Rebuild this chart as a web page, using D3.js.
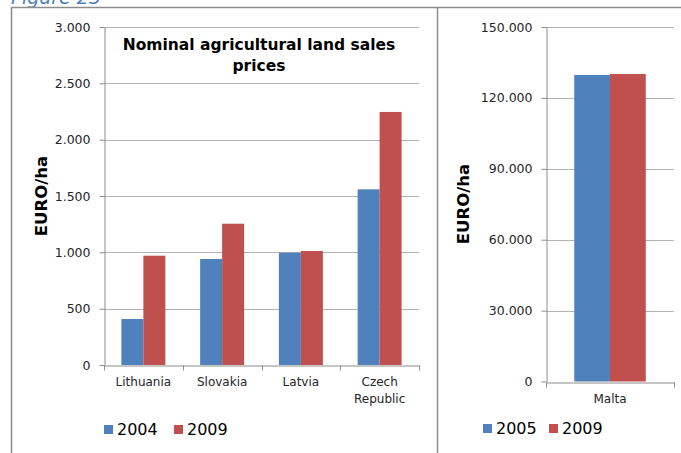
<!DOCTYPE html>
<html>
<head>
<meta charset="utf-8">
<script src="https://cdn.jsdelivr.net/npm/d3@7/dist/d3.min.js"></script>
<style>
html,body{margin:0;padding:0;background:#fff;}
svg{display:block;}
</style>
</head>
<body>
<svg id="chart" width="681" height="453"></svg>
<script>
// ---- data ----
const categoriesLeft = ["Lithuania", "Slovakia", "Latvia", "Czech Republic"];
const seriesLeft = ["2004", "2009"];
const values2004 = [408, 941, 997, 1559];
const values2009Left = [970, 1254, 1012, 2246];
const ticksLeft = [0, 500, 1000, 1500, 2000, 2500, 3000];

const categoriesRight = ["Malta"];
const seriesRight = ["2005", "2009"];
const values2005 = [129700];
const values2009Right = [130100];
const ticksRight = [0, 30000, 60000, 90000, 120000, 150000];

const chartTitle = ["Nominal agricultural land sales", "prices"];
const axisTitle = "EURO/ha";
const figureLabel = "Figure 23";
const colors = ["#4F81BD", "#C0504D"];

const loc = d3.formatLocale({decimal: ",", thousands: ".", grouping: [3], currency: ["", ""]});
const fmt = loc.format(",");

const svg = d3.select("#chart");

// figure label (cut at top)
svg.append("text").attr("x", 11).attr("y", 4)
  .attr("font-family", "DejaVu Sans").attr("font-style", "italic")
  .attr("font-size", 19).attr("fill", "#4F81BD").text(figureLabel);

// frames
const frameColor = "#8c8c8c";
svg.append("path").attr("d", "M11.5,453 V7.5 H681").attr("fill", "none")
  .attr("stroke", frameColor).attr("stroke-width", 1.5);
svg.append("line").attr("x1", 437.5).attr("x2", 437.5).attr("y1", 7.5).attr("y2", 453)
  .attr("stroke", frameColor).attr("stroke-width", 1.5);

function drawPanel(opts) {
  const {cats, series, data, ticks, ymax, x0, x1, yTop, yBot, titleX, wrap} = opts;
  const g = svg.append("g");
  const y = d3.scaleLinear().domain([0, ymax]).range([yBot, yTop]);
  const xb = d3.scaleBand().domain(cats).range([x0, x1]).padding(0);
  const xs = d3.scaleBand().domain(series).range([0, xb.bandwidth()]).paddingInner(0).paddingOuter(0.79);

  // gridlines
  g.append("g").selectAll("line").data(ticks.filter(t => t > 0)).join("line")
    .attr("x1", x0).attr("x2", x1)
    .attr("y1", d => Math.round(y(d)) + 0.5).attr("y2", d => Math.round(y(d)) + 0.5)
    .attr("stroke", "#b3b3b3").attr("stroke-width", 1);

  // bars
  series.forEach((s, si) => {
    g.append("g").selectAll("rect").data(cats).join("rect")
      .attr("x", c => xb(c) + xs(s))
      .attr("width", xs.bandwidth())
      .attr("y", (c, i) => y(data[si][i]))
      .attr("height", (c, i) => y(0) - y(data[si][i]))
      .attr("fill", colors[si]);
  });

  // y axis
  const ya = g.append("g").attr("transform", `translate(${x0 + 0.5},0)`)
    .call(d3.axisLeft(y).tickValues(ticks).tickFormat(fmt).tickSize(5).tickSizeOuter(0).tickPadding(9));
  ya.select(".domain").attr("stroke", "#8c8c8c");
  ya.selectAll(".tick line").attr("stroke", "#8c8c8c");
  ya.selectAll(".tick text").attr("font-family", "DejaVu Sans").attr("font-size", 12.5).attr("fill", "#262626");

  // x axis
  const xa = g.append("g").attr("transform", `translate(0,${Math.round(yBot) + 0.5})`)
    .call(d3.axisBottom(xb).tickSize(0).tickPadding(12));
  xa.select(".domain").attr("stroke", "#8c8c8c");
  xa.selectAll(".tick text").attr("font-family", "DejaVu Sans").attr("font-size", 12).attr("fill", "#262626")
    .each(function(d) {
      const t = d3.select(this);
      if (wrap && d.indexOf(" ") > 0) {
        const parts = d.split(" ");
        t.text(null);
        parts.forEach((p, i) => t.append("tspan").attr("x", 0).attr("dy", i === 0 ? "0.71em" : "1.45em").text(p));
        t.attr("dy", null);
      }
    });
  // category separator ticks
  const bounds = cats.map(c => xb(c)).concat([x1]);
  xa.append("g").selectAll("line").data(bounds).join("line")
    .attr("x1", d => Math.round(d) + 0.5).attr("x2", d => Math.round(d) + 0.5)
    .attr("y1", 0).attr("y2", 5).attr("stroke", "#8c8c8c");

  // axis title
  g.append("text")
    .attr("transform", `translate(${opts.axisTitleX},${opts.axisTitleY}) rotate(-90)`)
    .attr("text-anchor", "middle").attr("font-family", "DejaVu Sans").attr("font-weight", "bold")
    .attr("font-size", 16.5).attr("fill", "#000").attr("dy", "0.35em").text(axisTitle);

  // legend
  series.forEach((s, si) => {
    const lx = opts.legendX[si];
    g.append("rect").attr("x", lx).attr("y", opts.legendY - 10).attr("width", 9).attr("height", 9).attr("fill", colors[si]);
    g.append("text").attr("x", lx + 13).attr("y", opts.legendY)
      .attr("font-family", "DejaVu Sans").attr("font-size", 16).attr("fill", "#000").text(s);
  });
  return {y, xb};
}

drawPanel({
  cats: categoriesLeft, series: seriesLeft, data: [values2004, values2009Left],
  ticks: ticksLeft, ymax: 3000, x0: 104, x1: 419, yTop: 27, yBot: 365, wrap: true,
  axisTitleX: 41, axisTitleY: 196, legendX: [104, 174], legendY: 435
});

drawPanel({
  cats: categoriesRight, series: seriesRight, data: [values2005, values2009Right],
  ticks: ticksRight, ymax: 150000, x0: 546, x1: 674, yTop: 27, yBot: 381.5, wrap: false,
  axisTitleX: 463, axisTitleY: 204, legendX: [483, 549], legendY: 434
});

// chart title
const tt = svg.append("text").attr("x", 259).attr("y", 50).attr("text-anchor", "middle")
  .attr("font-family", "DejaVu Sans").attr("font-weight", "bold").attr("font-size", 15.5).attr("fill", "#000");
chartTitle.forEach((line, i) => tt.append("tspan").attr("x", 259).attr("dy", i === 0 ? 0 : 21).text(line));
</script>
</body>
</html>
